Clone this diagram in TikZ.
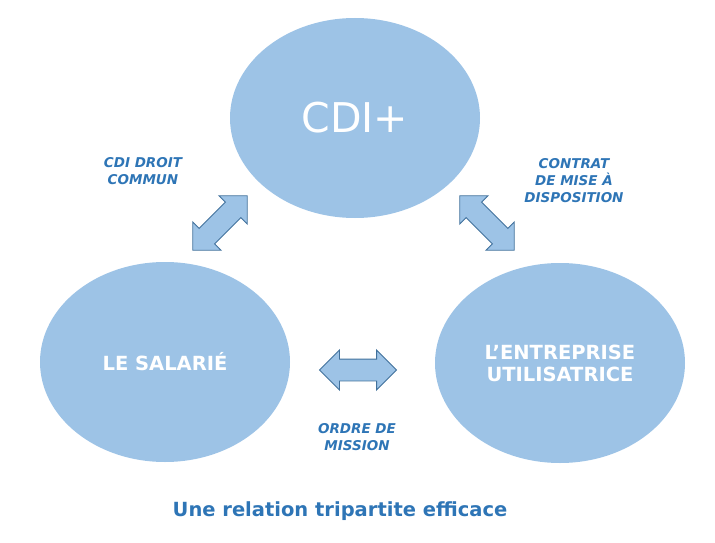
\documentclass[tikz,border=0pt]{standalone}
\usepackage{fontspec}
\setmainfont{DejaVu Sans}
\usetikzlibrary{shapes.geometric,shapes.arrows}
\definecolor{bulleblue}{RGB}{157,195,230}
\definecolor{bordblue}{RGB}{65,113,156}
\definecolor{texteblue}{RGB}{46,117,182}
\begin{document}
\begin{tikzpicture}[x=1pt, y=-1pt,
    bulle/.style={ellipse, fill=bulleblue, minimum width=250pt, minimum height=200pt, text=white, align=center, font=\bfseries\fontsize{19.5}{22}\selectfont},
    fleche/.style={double arrow, fill=bulleblue, draw=bordblue, line width=0.9pt, inner xsep=0pt, inner ysep=10.5pt, double arrow head extend=9pt, minimum height=77pt},
    lien/.style={text=texteblue, align=center, font=\bfseries\itshape\fontsize{13.5}{17}\selectfont}]
    \useasboundingbox (0,0) rectangle (715,543);
    % Define the three partners
    \node[bulle, font=\fontsize{41}{44}\selectfont] (cdi) at (355, 118) {CDI+};
    \node[bulle] (salarie) at (165, 362) {LE SALARIÉ};
    \node[bulle] (entreprise) at (560, 363) {L’ENTREPRISE\\UTILISATRICE};
    
    % Draw the block arrows between them
    \node[fleche, rotate=45] (a1) at (220, 223) {};
    \node[fleche, rotate=-45] (a2) at (487, 223) {};
    \node[fleche] (a3) at (358, 370) {};
    
    % Labels of the links
    \node[lien] (l1) at (143, 171) {CDI DROIT\\COMMUN};
    \node[lien] (l2) at (574, 181) {CONTRAT\\DE MISE À\\DISPOSITION};
    \node[lien] (l3) at (357, 437) {ORDRE DE\\MISSION};
    
    \node[text=texteblue, font=\bfseries\fontsize{19.5}{22}\selectfont] (titre) at (340, 511) {Une relation tripartite efficace};
\end{tikzpicture}
\end{document}
